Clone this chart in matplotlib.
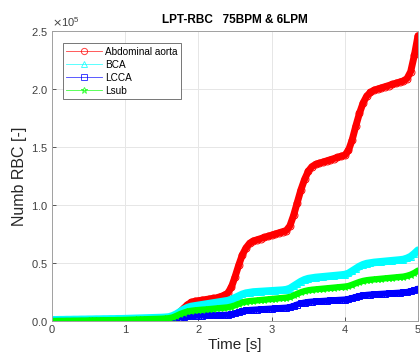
import numpy as np
import matplotlib
matplotlib.use("Agg")
import matplotlib.pyplot as plt
from matplotlib.ticker import ScalarFormatter
from matplotlib.lines import Line2D

plt.rcParams['font.family'] = ['Liberation Sans', 'DejaVu Sans']

# time grid (s)
time_s = np.round(np.arange(0, 101) * 0.05, 2)

# values in units of 1e5 RBC
abdominal_aorta = [
    0.00, 0.00, 0.00, 0.00, 0.00, 0.00, 0.00, 0.00, 0.00, 0.00, 0.00,
    0.00, 0.00, 0.00, 0.00, 0.00, 0.00, 0.00, 0.00, 0.00, 0.00,
    0.003, 0.005, 0.007, 0.009, 0.011, 0.013, 0.015, 0.017, 0.019, 0.021,
    0.024, 0.028, 0.035, 0.05, 0.08, 0.11, 0.14, 0.16, 0.17, 0.175,
    0.18, 0.185, 0.19, 0.195, 0.20, 0.21, 0.22, 0.24, 0.29, 0.38,
    0.48, 0.57, 0.63, 0.67, 0.69, 0.70, 0.71, 0.72, 0.73, 0.74,
    0.75, 0.76, 0.77, 0.78, 0.82, 0.91, 1.02, 1.13, 1.22, 1.29,
    1.33, 1.35, 1.36, 1.37, 1.38, 1.39, 1.40, 1.41, 1.42, 1.43,
    1.47, 1.56, 1.68, 1.79, 1.88, 1.94, 1.97, 1.99, 2.00, 2.01,
    2.02, 2.03, 2.04, 2.05, 2.06, 2.07, 2.09, 2.15, 2.29, 2.46,
]
bca = [
    0.010, 0.010, 0.011, 0.011, 0.012, 0.012, 0.013, 0.013, 0.014, 0.014, 0.015,
    0.015, 0.016, 0.016, 0.017, 0.017, 0.018, 0.018, 0.019, 0.019, 0.020,
    0.021, 0.022, 0.023, 0.024, 0.025, 0.026, 0.027, 0.028, 0.029, 0.030,
    0.032, 0.035, 0.045, 0.06, 0.08, 0.10, 0.115, 0.125, 0.13, 0.135,
    0.14, 0.145, 0.15, 0.155, 0.16, 0.165, 0.17, 0.175, 0.185, 0.20,
    0.215, 0.23, 0.24, 0.245, 0.25, 0.252, 0.254, 0.256, 0.258, 0.26,
    0.262, 0.264, 0.266, 0.27, 0.28, 0.30, 0.32, 0.34, 0.355, 0.365,
    0.37, 0.375, 0.378, 0.381, 0.384, 0.387, 0.39, 0.393, 0.396, 0.40,
    0.41, 0.43, 0.45, 0.47, 0.485, 0.495, 0.50, 0.505, 0.508, 0.511,
    0.514, 0.517, 0.52, 0.523, 0.526, 0.53, 0.54, 0.555, 0.58, 0.61,
]
lcca = [
    0.000, 0.000, 0.000, 0.000, 0.000, 0.000, 0.000, 0.000, 0.000, 0.000, 0.000,
    0.001, 0.001, 0.001, 0.002, 0.002, 0.002, 0.003, 0.003, 0.003, 0.004,
    0.004, 0.005, 0.005, 0.006, 0.006, 0.007, 0.007, 0.008, 0.008, 0.009,
    0.010, 0.012, 0.016, 0.022, 0.03, 0.036, 0.040, 0.043, 0.045, 0.046,
    0.047, 0.048, 0.049, 0.050, 0.051, 0.052, 0.053, 0.054, 0.058, 0.066,
    0.076, 0.085, 0.091, 0.095, 0.097, 0.099, 0.101, 0.103, 0.105, 0.107,
    0.109, 0.111, 0.113, 0.115, 0.12, 0.13, 0.142, 0.152, 0.159, 0.164,
    0.167, 0.169, 0.171, 0.173, 0.175, 0.177, 0.179, 0.181, 0.183, 0.185,
    0.19, 0.198, 0.207, 0.215, 0.221, 0.225, 0.228, 0.230, 0.232, 0.234,
    0.236, 0.238, 0.240, 0.242, 0.244, 0.246, 0.25, 0.256, 0.265, 0.278,
]
lsub = [
    0.000, 0.000, 0.001, 0.001, 0.002, 0.002, 0.003, 0.003, 0.004, 0.004, 0.005,
    0.005, 0.006, 0.006, 0.007, 0.007, 0.008, 0.008, 0.009, 0.009, 0.010,
    0.011, 0.012, 0.013, 0.014, 0.015, 0.016, 0.017, 0.018, 0.019, 0.020,
    0.022, 0.025, 0.032, 0.045, 0.06, 0.072, 0.082, 0.088, 0.092, 0.095,
    0.098, 0.10, 0.103, 0.106, 0.109, 0.112, 0.115, 0.118, 0.125, 0.135,
    0.148, 0.16, 0.168, 0.172, 0.175, 0.178, 0.181, 0.184, 0.187, 0.19,
    0.193, 0.196, 0.199, 0.202, 0.208, 0.22, 0.235, 0.248, 0.258, 0.265,
    0.27, 0.273, 0.276, 0.279, 0.282, 0.285, 0.288, 0.291, 0.294, 0.297,
    0.302, 0.313, 0.325, 0.337, 0.346, 0.352, 0.356, 0.359, 0.362, 0.365,
    0.368, 0.371, 0.374, 0.377, 0.38, 0.383, 0.39, 0.40, 0.415, 0.435,
]
scale = 1e5

series_names = ["Abdominal aorta", "BCA", "LCCA", "Lsub"]
series_vals = [abdominal_aorta, bca, lcca, lsub]
colors = ["#ff0000", "#00ffff", "#0000ff", "#00ff00"]
markers = ["o", "^", "s", "*"]
band_lw = [5.0, 5.5, 4.5, 4.5]

fig = plt.figure(figsize=(4.2, 3.58), dpi=100)
ax = fig.add_axes([52/420, 1 - 321/358, (418 - 52)/420, (321 - 31)/358])

handles = []
for name, vals, c, m, blw in zip(series_names, series_vals, colors, markers, band_lw):
    y = np.array(vals) * scale
    ax.plot(time_s, y, color=c, linewidth=blw, solid_capstyle='round',
            solid_joinstyle='round')
    ax.plot(time_s, y, color=c, marker=m, markersize=5,
            markerfacecolor='none', markeredgewidth=0.7, linewidth=0.6)
    handles.append(Line2D([], [], color=c, marker=m, markersize=4.5,
                          markerfacecolor='none', markeredgewidth=0.7,
                          linewidth=0.6, alpha=0.75, label=name))

ax.set_xlim(0, 5)
ax.set_ylim(0, 2.5e5)
ax.set_xticks([0, 1, 2, 3, 4, 5])
ax.set_yticks([0, 0.5e5, 1e5, 1.5e5, 2e5, 2.5e5])
fmt = ScalarFormatter(useMathText=True)
fmt.set_powerlimits((0, 0))
ax.yaxis.set_major_formatter(fmt)
ax.yaxis.get_offset_text().set_fontsize(8)
ax.yaxis.get_offset_text().set_color('#404040')

ax.grid(True, color='#e6e6e6', linewidth=0.7)
ax.set_axisbelow(True)
for s in ax.spines.values():
    s.set_color('#a0a0a0')
    s.set_linewidth(0.7)
ax.tick_params(direction='in', length=3, width=0.6, colors='#404040',
               labelsize=8, pad=3)

ax.set_title("LPT-RBC   75BPM & 6LPM", fontsize=8.5, fontweight='bold', pad=6)
ax.set_xlabel("Time [s]", fontsize=11, color='#262626', labelpad=2)
ax.set_ylabel("Numb RBC [-]", fontsize=11.5, color='#262626', labelpad=3)

leg = ax.legend(handles=handles, loc='upper left', bbox_to_anchor=(0.016, 0.975),
                fontsize=7.2, handlelength=3.6, handletextpad=0.3, borderpad=0.35,
                labelspacing=0.3, fancybox=False, framealpha=1,
                edgecolor='#606060')
leg.get_frame().set_linewidth(0.6)

fig.savefig("out.png", dpi=100)
